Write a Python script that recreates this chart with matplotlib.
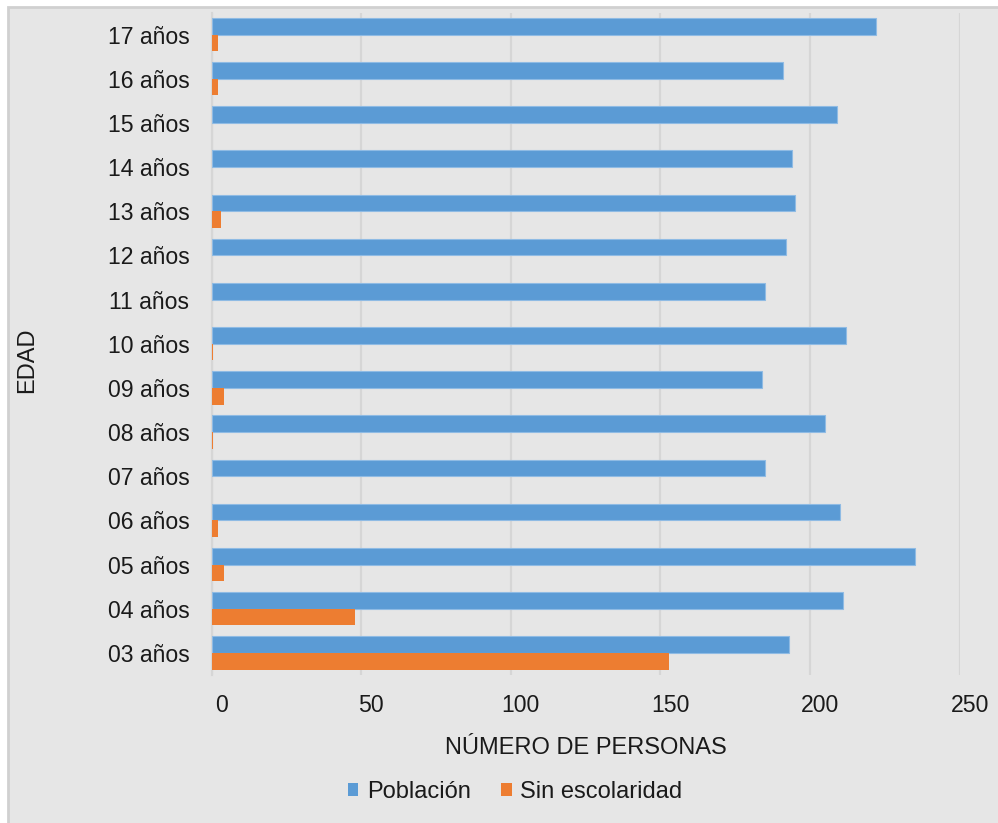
import matplotlib
matplotlib.use("Agg")
import matplotlib.pyplot as plt
from matplotlib.patches import Rectangle, Patch
from matplotlib.transforms import ScaledTranslation
import numpy as np

categories = ["03 años", "04 años", "05 años", "06 años", "07 años", "08 años",
              "09 años", "10 años", "11 años", "12 años", "13 años", "14 años",
              "15 años", "16 años", "17 años"]
poblacion = [193, 211, 235, 210, 185, 205, 184, 212, 185, 192, 195, 194, 209, 191, 222]
sin_escolaridad = [153, 48, 4, 2, 0, 0.4, 4, 0.4, 0, 0, 3, 0, 0, 2, 2]
x_ticks = [0, 50, 100, 150, 200, 250]

blue = "#5b9bd5"
orange = "#ed7d31"
bg = "#e6e6e6"
grid_c = "#d6d6d6"

plt.rcParams['font.family'] = ['Liberation Sans', 'DejaVu Sans']

fig = plt.figure(figsize=(9.98, 8.23), dpi=100, facecolor="white")
fig.patches.append(Rectangle((8/998, -0.5), 1.5, 1.5 - 7/823,
                             transform=fig.transFigure, facecolor=bg,
                             edgecolor="#d0d0d0", linewidth=2, zorder=-10))

ax = fig.add_axes([211.6/998, 1 - 675/823, (959.7 - 211.6)/998, (675 - 12.5)/823])
ax.set_facecolor(bg)
ax.patch.set_alpha(0)

y = np.arange(len(categories))
h = 0.378
ax.barh(y + h/2, poblacion, height=h, color=blue, edgecolor="#8fbbe4", linewidth=0.8,
        label="Población", zorder=3)
ax.barh(y - h/2, sin_escolaridad, height=h, color=orange, edgecolor="none", linewidth=0,
        label="Sin escolaridad", zorder=3)

ax.set_xlim(0, 250)
ax.set_ylim(-0.5, len(categories) - 0.5)
ax.set_xticks(x_ticks)
ax.set_yticks(y)
ax.set_yticklabels(categories)
ax.tick_params(axis='both', length=0, labelsize=16.6, colors="#1a1a1a")
ax.tick_params(axis='y', pad=16)
ax.tick_params(axis='x', pad=14)
offset = ScaledTranslation(0.10, 0, fig.dpi_scale_trans)
for lbl in ax.get_xticklabels():
    lbl.set_transform(lbl.get_transform() + offset)
for s in ["top", "right", "bottom"]:
    ax.spines[s].set_visible(False)
ax.spines["left"].set_color(grid_c)
ax.spines["left"].set_linewidth(1.6)
ax.xaxis.grid(True, color=grid_c, linewidth=1.6, zorder=0)
ax.set_axisbelow(True)

ax.set_xlabel("NÚMERO DE PERSONAS", fontsize=17, color="#1a1a1a", labelpad=14)
fig.text(27/998, 1 - 360/823, "EDAD", rotation=90, fontsize=17, color="#1a1a1a",
         ha="center", va="center")

handles = [Patch(facecolor=blue), Patch(facecolor=orange)]
fig.legend(handles, ["Población", "Sin escolaridad"], loc="center",
           bbox_to_anchor=(515/998, 1 - 792/823), ncol=2, frameon=False,
           fontsize=17, handlelength=0.45, handleheight=0.45,
           handletextpad=0.35, columnspacing=1.3, labelcolor="#1a1a1a")

fig.savefig("out.png", dpi=100, facecolor="white")
